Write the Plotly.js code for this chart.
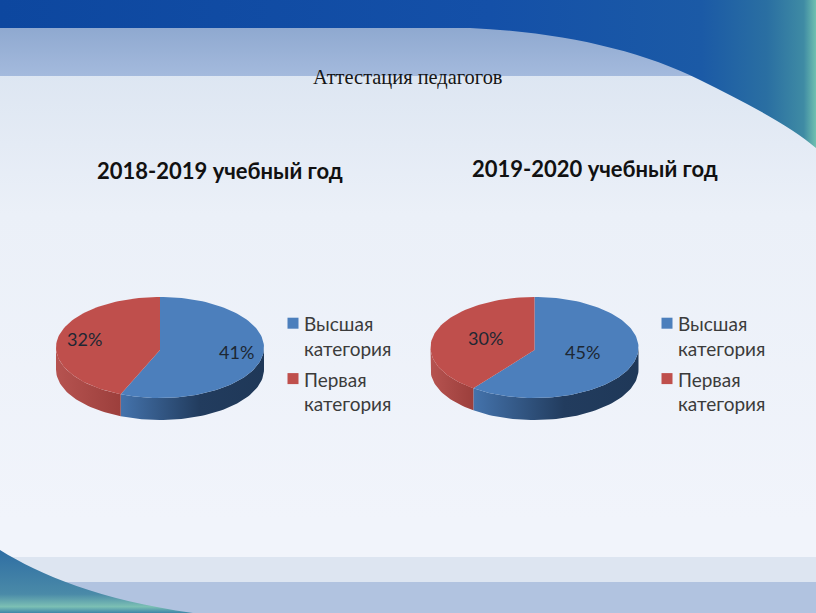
<!DOCTYPE html>
<html><head><meta charset="utf-8">
<script src="https://cdn.plot.ly/plotly-3.0.1.min.js"></script>
<style>html,body{margin:0;padding:0;background:#eef2f9}#chart{width:816px;height:613px}</style>
</head><body><div id="chart"></div>
<script>
// ---- data ----
const pageTitle = 'Аттестация педагогов';
const years = ['2018-2019 учебный год', '2019-2020 учебный год'];
const categories = ['Высшая<br>категория', 'Первая<br>категория'];
const highest = [41, 45];
const first = [32, 30];

// ---- styling ----
const BLUE = '#4c7fbc', RED = '#bf4f4c';
const W = 816, H = 613;
const FONT = 'Lato, Carlito, "Noto Sans", sans-serif';
const panels = [
  {cx: 160, cy: 347.5, rx: 104, ry: 50.5, depth: 22, lab: [[0.74, -0.09], [-0.73, 0.17]], titleX: 220, titleY: 170, legX: 264, legY: 305},
  {cx: 534.5, cy: 347.5, rx: 104, ry: 50.5, depth: 22, lab: [[0.46, -0.09], [-0.47, 0.19]], titleX: 594.5, titleY: 168, legX: 638, legY: 305}
];
const PAD = 10;

const bgSvg = `<svg xmlns="http://www.w3.org/2000/svg" width="816" height="613">
<defs>
<linearGradient id="page" x1="0" y1="0" x2="0" y2="1"><stop offset="0.12" stop-color="#dde6f2"/><stop offset="0.35" stop-color="#ebf0f8"/><stop offset="0.85" stop-color="#f1f4fb"/></linearGradient>
<linearGradient id="band" x1="0" y1="0" x2="0" y2="1"><stop offset="0" stop-color="#8fa9d0"/><stop offset="1" stop-color="#a4badd"/></linearGradient>
<linearGradient id="top" x1="0" y1="0" x2="1" y2="0"><stop offset="0" stop-color="#0d479f"/><stop offset="0.6" stop-color="#1450a8"/><stop offset="0.86" stop-color="#1b5aa6"/><stop offset="0.94" stop-color="#2a6fa2"/><stop offset="0.985" stop-color="#3f8ba4"/><stop offset="1" stop-color="#6fc0b0"/></linearGradient>
<linearGradient id="corner" x1="0" y1="0" x2="0" y2="1"><stop offset="0" stop-color="#2f6ea3"/><stop offset="0.7" stop-color="#4a8aa8"/><stop offset="0.9" stop-color="#7cc0b4"/><stop offset="1" stop-color="#3f86a8"/></linearGradient>
</defs>
<rect width="816" height="613" fill="url(#page)"/>
<rect y="28" width="720" height="48" fill="url(#band)"/>
<path d="M0,0H816V148C790,125 740,100 700,80C640,50 560,32 470,28H0Z" fill="url(#top)"/>
<rect y="557" width="816" height="25" fill="#dde5f1"/>
<rect y="582" width="816" height="31" fill="#b1c3e0"/>
<path d="M0,550C40,575 100,600 193,613H0Z" fill="url(#corner)"/>
</svg>`;

function arc(from, to, dy) {
  const xs = [], ys = [];
  const step = (to > from ? 1 : -1) * 2;
  for (let a = from; (step > 0 ? a < to : a > to); a += step) {
    xs.push(Math.sin(a * Math.PI / 180));
    ys.push(Math.cos(a * Math.PI / 180) - dy);
  }
  xs.push(Math.sin(to * Math.PI / 180));
  ys.push(Math.cos(to * Math.PI / 180) - dy);
  return [xs, ys];
}

const traces = [];
const layout = {
  width: W, height: H, margin: {l: 0, r: 0, t: 0, b: 0},
  paper_bgcolor: 'rgba(0,0,0,0)', plot_bgcolor: 'rgba(0,0,0,0)',
  font: {family: FONT},
  showlegend: true,
  images: [{source: 'data:image/svg+xml;charset=utf-8,' + encodeURIComponent(bgSvg), xref: 'paper', yref: 'paper', x: 0, y: 1, sizex: 1, sizey: 1, sizing: 'stretch', xanchor: 'left', yanchor: 'top', layer: 'below'}],
  annotations: [{text: pageTitle, xref: 'paper', yref: 'paper', x: 408 / W, y: 1 - 77 / H, xanchor: 'center', yanchor: 'middle', showarrow: false, font: {family: '"Liberation Serif", serif', size: 20.4, color: '#151515'}}]
};

panels.forEach((p, i) => {
  const ax = i ? '2' : '', xa = 'x' + ax, ya = 'y' + ax, lg = i ? 'legend2' : 'legend';
  const shareBlue = highest[i] / (highest[i] + first[i]) * 360;
  const d = p.depth / p.ry;
  // axes map unit pie coordinates to the plot area
  layout['xaxis' + ax] = {visible: false, fixedrange: true, anchor: ya,
    domain: [(p.cx - p.rx - PAD) / W, (p.cx + p.rx + PAD) / W],
    range: [-(p.rx + PAD) / p.rx, (p.rx + PAD) / p.rx]};
  layout['yaxis' + ax] = {visible: false, fixedrange: true, anchor: xa,
    domain: [1 - (p.cy + p.ry + p.depth + PAD) / H, 1 - (p.cy - p.ry - PAD) / H],
    range: [-1 - d - PAD / p.ry, 1 + PAD / p.ry]};

  // side walls
  const wall = (from, to, colors) => {
    const [tx, ty] = arc(from, to, 0), [bx, by] = arc(to, from, d);
    traces.push({type: 'scatter', mode: 'lines', xaxis: xa, yaxis: ya, x: tx.concat(bx), y: ty.concat(by),
      fill: 'toself', line: {width: 0}, hoverinfo: 'skip', showlegend: false,
      fillgradient: {type: 'horizontal', colorscale: colors}});
  };
  wall(90, shareBlue, [[0, '#4473ac'], [0.55, '#223c5e'], [1, '#1f3858']]);
  wall(shareBlue, 270, [[0, '#b65350'], [1, '#9c3f3c']]);

  // tops
  const sector = (from, to, color, name) => {
    const [x, y] = arc(from, to, 0);
    traces.push({type: 'scatter', mode: 'lines', xaxis: xa, yaxis: ya, name: name,
      x: [0].concat(x, [0]), y: [-0.05].concat(y, [-0.05]),
      fill: 'toself', fillcolor: color, line: {width: 0}, hoverinfo: 'skip', showlegend: false});
  };
  sector(0, shareBlue, BLUE, categories[0]);
  sector(shareBlue, 360, RED, categories[1]);

  // legend entries
  [BLUE, RED].forEach((c, k) => traces.push({type: 'scatter', mode: 'markers', xaxis: xa, yaxis: ya,
    x: [null], y: [null], name: categories[k], legend: lg, legendgroup: 'g' + i + k, showlegend: true,
    marker: {symbol: 'square', size: 11, color: c}}));
  layout[lg] = {x: p.legX / W, y: 1 - p.legY / H, xanchor: 'left', yanchor: 'top', bgcolor: 'rgba(0,0,0,0)',
    font: {family: FONT, size: 19, color: '#3b3b3b'}, tracegroupgap: 3, itemwidth: 30, itemclick: false, itemdoubleclick: false};

  // data labels
  [highest[i], first[i]].forEach((v, k) => layout.annotations.push({text: v + '%', xref: xa, yref: ya,
    x: p.lab[k][0], y: p.lab[k][1], xanchor: 'center', yanchor: 'middle', showarrow: false, font: {family: FONT, size: 18, color: '#1d2733'}}));

  // chart title
  layout.annotations.push({text: '<b>' + years[i] + '</b>', xref: 'paper', yref: 'paper',
    x: p.titleX / W, y: 1 - p.titleY / H, xanchor: 'center', yanchor: 'middle', showarrow: false, font: {family: FONT, size: 22, color: '#111'}});
});

Plotly.newPlot('chart', traces, layout, {displayModeBar: false}).then(gd => {
  // legend swatch sits beside the first text line and close to the text, as in the reference
  gd.querySelectorAll('.legendsymbols').forEach(s => {
    s.setAttribute('transform', 'translate(9,-13)');
  });
});
</script></body></html>
